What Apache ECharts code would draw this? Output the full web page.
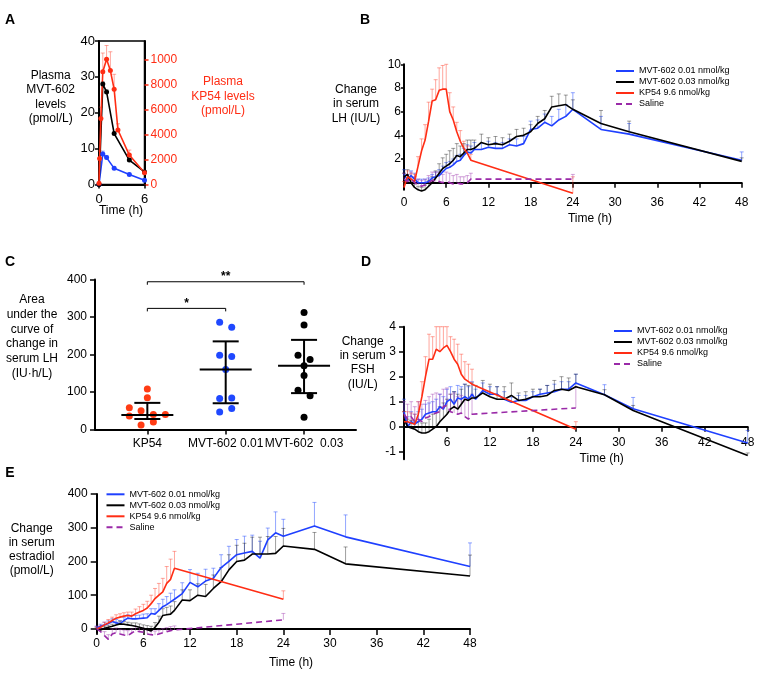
<!DOCTYPE html>
<html><head><meta charset="utf-8">
<script src="https://cdn.jsdelivr.net/npm/echarts@6/dist/echarts.min.js"></script>
<style>html,body{margin:0;padding:0;background:#fff}#c{width:764px;height:680px}</style>
</head><body><div id="c"></div>
<script>
// ---------- DATA ----------
const N1 = 'MVT-602 0.01 nmol/kg', N2 = 'MVT-602 0.03 nmol/kg', N3 = 'KP54 9.6 nmol/kg', N4 = 'Saline';
// Panel A
const tA = [0, 0.5, 1, 2, 4, 6];
const aBlue = [0, 8.5, 7.5, 4.5, 2.8, 1.2];
const aBlueErr = [0, 0.8, 0.6, 0.4, 0.4, 0.3];
const aBlack = [0, 28, 25.8, 14.2, 6.8, 3.5];
const aBlackErr = [0, 0.6, 0.6, 0.5, 0.4, 0.3];
const tAR = [0, 0.08, 0.25, 0.5, 1, 1.5, 2, 2.5, 4, 6];
const aRed = [100, 2080, 5280, 9000, 10000, 9100, 7600, 4350, 2350, 930];
const aRedErr = [0, 600, 900, 1500, 1100, 1500, 1200, 500, 400, 200];
const aRightTicks = [0, 2000, 4000, 6000, 8000, 10000];
const aRightLabels = ['0', '2000', '4000', '6000', '8000', '1000'];
// Time grids
const tB = [0,0.5,1,1.5,2,2.5,3,3.5,4,4.5,5,5.5,6,6.5,7,7.5,8,8.5,9,9.5,10,11,12,13,14,15,16,17,18,19,20,21,22,23,24,28,32,48];
const tK = [0,0.5,1,1.5,2,2.5,3,3.5,4,4.5,5,5.5,6,6.5,7,7.5,8,8.5,9,9.5,24];
const tKE = [0,0.5,1,1.5,2,2.5,3,3.5,4,4.5,5,5.5,6,6.5,7,7.5,8,8.5,9,9.5,10,24];
// Panel B (LH)
const bBlue = [0.7,0.2,0.6,0.3,0.0,0.0,0.0,0.1,0.4,0.5,0.6,0.9,1.2,1.3,1.5,1.8,1.9,2.3,2.6,2.5, 2.8,2.8,3.0,2.9,2.9,3.2,3.1,3.3,4.5,4.6,5.1,4.8,5.3,5.6,6.2,4.5,4.1,1.9];
const bBlueErr = [0.4,0.5,0.4,0.5,0.3,0.3,0.3,0.3,0.3,0.4,0.5,0.5,0.5,0.5,0.5,0.5,0.5,0.6,0.6,0.6, 0.6,0.5,0.5,0.5,0.5,0.5,0.6,0.6,0.7,0.7,0.7,0.8,0.9,1.0,1.4,1.1,0.9,0.7];
const bBlack = [0.5,0.7,0.0,-0.4,-0.6,-0.7,-0.6,-0.3,0.0,0.4,0.8,1.2,1.4,1.6,1.9,2.3,2.2,2.5,2.8,2.8, 2.9,3.4,3.2,3.3,3.2,3.5,3.9,4.0,4.3,5.0,5.4,6.4,6.5,6.6,6.2,5.0,4.3,1.8];
const bBlackErr = [0.3,0.4,0.3,0.3,0.3,0.3,0.4,0.5,0.5,0.6,0.8,0.9,1.0,1.1,1.0,1.0,0.9,0.8,0.8,0.8, 0.7,0.7,0.6,0.6,0.6,0.6,0.6,0.6,0.6,0.6,0.7,0.9,1.0,0.8,0.8,1.1,0.9,0.3];
const bRed = [-0.4,0.5,0.3,0.1,1.4,2.7,3.6,5.2,6.9,7.0,7.8,7.9,7.9,6.0,5.3,4.3,3.5,2.9,2.5,1.9,-0.9];
const bRedErr = [0.5,0.5,0.5,0.6,0.8,1.0,1.3,1.6,1.0,1.7,1.9,2.0,2.1,1.6,1.1,0.8,0.9,0.6,0.6,0.5,1.4];
const bSal = [0.3,0.1,0.3,0.0,-0.2,-0.3,-0.2,0.0,0.2,0.1,0.1,0.0,0.1,0.0,-0.1,0.0,-0.1,-0.1,0.0,0.3,0.3];
const bSalErr = [0.5,0.6,0.6,0.5,0.5,0.5,0.5,0.6,0.7,0.8,0.8,0.7,0.8,0.8,0.7,0.7,0.6,0.6,0.6,0.5,0.4];
// Panel C (AUC LH)
const cCats = ['KP54', 'MVT-602 0.01', 'MVT-602  0.03'];
const cRed = [108, 85, 58, 50, 36, 40, 40, 12, 20];
const cRedJit = [0, 0, -0.23, -0.08, -0.23, 0.077, 0.23, -0.08, 0.077];
const cBlue = [286, 273, 198, 195, 160, 83, 84, 47, 56];
const cBlueJit = [-0.077, 0.077, -0.077, 0.077, 0, -0.077, 0.077, -0.077, 0.077];
const cBlack = [312, 279, 198, 187, 170, 144, 105, 90, 33];
const cBlackJit = [0, 0, -0.077, 0.077, 0, 0, -0.077, 0.077, 0];
const cMean = [39, 160, 170];
const cSdLo = [28, 70, 97];
const cSdHi = [71, 235, 239];
const sigFrom = [1, 1], sigTo = [2, 3], sigY = [323, 394], sigText = ['*', '**'];
// Panel D (FSH)
const dBlue = [0.6,0.0,0.2,0.1,0.2,0.3,0.5,0.55,0.6,0.6,0.8,0.7,1.0,1.1,0.9,1.15,1.1,1.2,1.1,1.3, 1.1,1.45,1.3,1.3,1.1,0.98,1.05,1.05,1.2,1.3,1.35,1.4,1.5,1.5,1.75,1.28,0.72,-0.65];
const dBlueErr = [0.5,0.4,0.4,0.4,0.4,0.4,0.4,0.4,0.4,0.5,0.5,0.5,0.5,0.5,0.5,0.5,0.5,0.5,0.5,0.5, 0.4,0.3,0.3,0.3,0.3,0.2,0.2,0.2,0.2,0.2,0.3,0.3,0.3,0.3,0.35,0.4,0.45,0.5];
const dBlack = [0.3,0.0,-0.05,-0.1,-0.2,-0.25,-0.25,-0.2,-0.1,0.0,0.2,0.35,0.5,0.7,0.8,0.7,0.9,1.1,1.05,1.15, 1.15,1.35,1.2,1.1,1.1,1.25,1.05,1.1,1.2,1.2,1.25,1.45,1.5,1.45,1.6,1.28,0.65,-1.15];
const dBlackErr = [0.3,0.3,0.3,0.3,0.4,0.4,0.4,0.5,0.6,0.6,0.6,0.6,0.6,0.6,0.6,0.6,0.6,0.6,0.6,0.6, 0.5,0.5,0.5,0.5,0.5,0.5,0.3,0.3,0.3,0.3,0.4,0.4,0.5,0.5,0.5,0.2,0.2,0.1];
const dRed = [0.2,0.2,0.15,0.1,0.5,1.2,2.0,2.7,2.7,3.1,3.0,3.15,3.25,3.0,2.7,2.5,2.1,1.9,1.8,1.7,-0.1];
const dRedErr = [0.4,0.4,0.4,0.4,0.5,0.6,0.8,1.0,0.9,0.9,1.0,0.85,0.75,0.6,0.8,0.8,0.8,0.7,0.7,0.6,0.3];
const dSal = [0.5,0.3,0.4,0.2,0.3,0.2,0.35,0.4,0.5,0.55,0.6,0.8,0.85,0.6,0.55,0.5,0.55,0.4,0.3,0.5,0.75];
const dSalErr = [0.5,0.6,0.6,0.6,0.7,0.7,0.7,0.8,0.8,0.8,0.7,0.7,0.7,0.7,0.8,0.7,0.7,0.7,0.8,0.8,0.85];
// Panel E (estradiol)
const eBlue = [2,8,12,16,22,18,15,25,32,30,30,31,32,33,46,44,55,66,72,80, 88,105,138,125,142,150,182,200,220,225,230,210,264,285,275,305,273,185];
const eBlueErr = [6,6,8,8,8,10,10,10,10,10,10,10,12,12,14,16,20,22,24,26, 28,32,38,40,35,30,38,45,45,50,48,50,35,62,50,70,65,70];
const eBlack = [0,-3,2,5,8,12,15,14,12,10,8,5,2,-2,-6,5,20,40,42,44, 55,86,84,100,96,120,140,175,200,204,222,222,222,224,246,236,193,157];
const eBlackErr = [5,5,6,6,6,8,8,8,8,8,10,10,10,12,14,14,18,20,22,24, 26,30,32,34,36,40,42,45,48,50,50,50,52,50,52,50,50,62];
const eRed = [0,5,12,18,25,32,35,38,40,38,45,50,55,62,75,90,100,110,135,147,180,88];
const eRedErr = [5,6,8,10,10,10,10,10,10,12,14,16,18,20,25,30,35,40,50,60,50,25];
const eSal = [0,-8,-20,-31,-15,-11,-15,-18,-20,-12,-5,-8,-10,-15,-17,-18,-15,-11,-8,-5,-3,27];
const eSalErr = [8,10,12,14,15,14,14,15,15,12,12,12,12,12,12,12,12,12,12,12,12,19];

// ---------- STYLE ----------
const FONT = "'Liberation Sans', Arial, sans-serif";
const BLUE = '#1f40ff', BLACK = '#000', RED = '#ff2d14', PURPLE = '#9a2aa8';
const BLUE_E = 'rgba(40,80,255,0.5)', BLACK_E = 'rgba(0,0,0,0.38)', RED_E = 'rgba(255,60,40,0.45)', PURPLE_E = 'rgba(160,60,175,0.45)';

function lineS(name, xi, yi, t, v, color, dashed, sym) {
  return { type: 'line', name, xAxisIndex: xi, yAxisIndex: yi, data: t.map((x, i) => [x, v[i]]),
    symbol: sym ? 'circle' : 'none', symbolSize: 5, showSymbol: !!sym, itemStyle: { color },
    lineStyle: { color, width: 1.6, type: dashed ? [6, 4] : 'solid' }, clip: false, animation: false, z: 3 };
}
function errS(xi, yi, t, v, e, color) {
  return { type: 'custom', name: 'err', xAxisIndex: xi, yAxisIndex: yi, silent: true, animation: false, clip: false, z: 2,
    data: t.map((x, i) => [x, v[i], e[i]]),
    renderItem: (p, api) => {
      const x = api.value(0), y = api.value(1), e = api.value(2);
      if (!e) return null;
      const a = api.coord([x, y]), b = api.coord([x, y + e]);
      return { type: 'group', children: [
        { type: 'line', shape: { x1: a[0], y1: a[1], x2: b[0], y2: b[1] }, style: { stroke: color, lineWidth: 1 } },
        { type: 'line', shape: { x1: b[0] - 2, y1: b[1], x2: b[0] + 2, y2: b[1] }, style: { stroke: color, lineWidth: 1 } }
      ] };
    } };
}
const axLine = { show: true, onZero: true, lineStyle: { color: '#000', width: 2 } };
function tick(len, vals, color) { const o = { show: true, length: len, lineStyle: { color: color || '#000', width: 1.5 } }; if (vals) o.customValues = vals; return o; }
function lab(margin, size, vals, color, fmt) { const o = { show: true, margin, fontSize: size, fontFamily: FONT, color: color || '#000' }; if (vals) o.customValues = vals; if (fmt) o.formatter = fmt; return o; }
const noSplit = { show: false };

const xAxis = [
  { gridIndex: 0, type: 'value', min: 0, max: 6, interval: 6, axisLine: axLine, axisTick: tick(4), axisLabel: lab(8, 13), splitLine: noSplit },
  { gridIndex: 1, type: 'value', min: 0, max: 48, interval: 6, axisLine: axLine, axisTick: tick(5), axisLabel: lab(7, 12), splitLine: noSplit },
  { gridIndex: 2, type: 'value', min: 0.332, max: 3.663, axisLine: axLine, axisTick: tick(5, [1, 2, 3]), axisLabel: lab(8, 12, [1, 2, 3], null, v => cCats[Math.round(v) - 1]), splitLine: noSplit },
  { gridIndex: 3, type: 'value', min: 0, max: 48, axisLine: axLine, axisTick: tick(5, [0, 6, 12, 18, 24, 30, 36, 42, 48]), axisLabel: lab(-23, 12, [6, 12, 18, 24, 30, 36, 42, 48]), splitLine: noSplit },
  { gridIndex: 4, type: 'value', min: 0, max: 48, interval: 6, axisLine: axLine, axisTick: tick(6), axisLabel: lab(4.5, 12), splitLine: noSplit }
];
const yAxis = [
  { gridIndex: 0, type: 'value', min: 0, max: 40, interval: 10, axisLine: axLine, axisTick: tick(4), axisLabel: lab(4, 13), splitLine: noSplit },
  { gridIndex: 0, type: 'value', position: 'right', min: 0, max: 11460, axisLine: { show: true, lineStyle: { color: '#000', width: 2 } },
    axisTick: tick(4, aRightTicks, RED), axisLabel: lab(6, 12, aRightTicks, RED, v => aRightLabels[aRightTicks.indexOf(v)]), splitLine: noSplit },
  { gridIndex: 1, type: 'value', min: -0.6, max: 10, axisLine: axLine, axisTick: tick(3, [2, 4, 6, 8, 10]), axisLabel: lab(3, 12, [2, 4, 6, 8, 10]), splitLine: noSplit },
  { gridIndex: 2, type: 'value', min: 0, max: 400, interval: 100, axisLine: axLine, axisTick: tick(5), axisLabel: lab(8, 12), splitLine: noSplit },
  { gridIndex: 3, type: 'value', min: -1.3, max: 4, axisLine: axLine, axisTick: tick(5, [-1, 0, 1, 2, 3, 4]), axisLabel: lab(8, 12, [-1, 0, 1, 2, 3, 4]), splitLine: noSplit },
  { gridIndex: 4, type: 'value', min: -12, max: 400, axisLine: axLine, axisTick: tick(6, [0, 100, 200, 300, 400]), axisLabel: lab(9, 12, [0, 100, 200, 300, 400]), splitLine: noSplit }
];
const grid = [
  { left: 99, top: 41, width: 45.5, height: 143.5, show: true, borderColor: '#000', borderWidth: 1.5, backgroundColor: 'transparent' },
  { left: 404, top: 64.3, width: 337.7, height: 125.5 },
  { left: 95, top: 279.5, width: 261, height: 150 },
  { left: 404, top: 326.7, width: 343.7, height: 132.5 },
  { left: 96.7, top: 494, width: 373.3, height: 139 }
];

const series = [];
// A
series.push(errS(0, 0, tA, aBlue, aBlueErr, BLUE_E), errS(0, 0, tA, aBlack, aBlackErr, BLACK_E), errS(0, 1, tAR, aRed, aRedErr, RED_E));
series.push(lineS('A-0.01', 0, 0, tA, aBlue, BLUE, false, true), lineS('A-0.03', 0, 0, tA, aBlack, BLACK, false, true), lineS('A-KP54', 0, 1, tAR, aRed, RED, false, true));
// B, D, E
const panels = [
  { xi: 1, yi: 2, blue: bBlue, blueE: bBlueErr, black: bBlack, blackE: bBlackErr, tr: tK, red: bRed, redE: bRedErr, sal: bSal, salE: bSalErr },
  { xi: 3, yi: 4, blue: dBlue, blueE: dBlueErr, black: dBlack, blackE: dBlackErr, tr: tK, red: dRed, redE: dRedErr, sal: dSal, salE: dSalErr },
  { xi: 4, yi: 5, blue: eBlue, blueE: eBlueErr, black: eBlack, blackE: eBlackErr, tr: tKE, red: eRed, redE: eRedErr, sal: eSal, salE: eSalErr }
];
panels.forEach(P => {
  series.push(lineS(N1, P.xi, P.yi, tB, P.blue, BLUE), lineS(N2, P.xi, P.yi, tB, P.black, BLACK),
    lineS(N3, P.xi, P.yi, P.tr, P.red, RED), lineS(N4, P.xi, P.yi, P.tr, P.sal, PURPLE, true));
  series.push(errS(P.xi, P.yi, tB, P.blue, P.blueE, BLUE_E), errS(P.xi, P.yi, tB, P.black, P.blackE, BLACK_E),
    errS(P.xi, P.yi, P.tr, P.red, P.redE, RED_E), errS(P.xi, P.yi, P.tr, P.sal, P.salE, PURPLE_E));
});
// C scatter
function scat(vals, jit, cat, color) {
  return { type: 'scatter', name: 'C' + cat, xAxisIndex: 2, yAxisIndex: 3, symbolSize: 7, itemStyle: { color, opacity: 1 },
    data: vals.map((v, i) => [cat + jit[i], v]), animation: false, z: 3 };
}
series.push(scat(cRed, cRedJit, 1, '#ff3c14'), scat(cBlue, cBlueJit, 2, '#1f48ff'), scat(cBlack, cBlackJit, 3, '#000'));
series.push({ type: 'custom', name: 'meanSD', xAxisIndex: 2, yAxisIndex: 3, animation: false, silent: true, z: 4,
  data: cMean.map((m, i) => [i + 1, m, cSdLo[i], cSdHi[i]]),
  renderItem: (p, api) => {
    const x = api.value(0), pm = api.coord([x, api.value(1)]), pl = api.coord([x, api.value(2)]), ph = api.coord([x, api.value(3)]);
    const st = { stroke: '#000', lineWidth: 2 };
    return { type: 'group', children: [
      { type: 'line', shape: { x1: pm[0] - 26, y1: pm[1], x2: pm[0] + 26, y2: pm[1] }, style: st },
      { type: 'line', shape: { x1: pl[0], y1: pl[1], x2: ph[0], y2: ph[1] }, style: st },
      { type: 'line', shape: { x1: pl[0] - 13, y1: pl[1], x2: pl[0] + 13, y2: pl[1] }, style: st },
      { type: 'line', shape: { x1: ph[0] - 13, y1: ph[1], x2: ph[0] + 13, y2: ph[1] }, style: st }
    ] };
  } });
series.push({ type: 'custom', name: 'sig', xAxisIndex: 2, yAxisIndex: 3, animation: false, silent: true, clip: false, z: 4,
  data: sigFrom.map((f, i) => [f, sigY[i], sigTo[i], i]),
  renderItem: (p, api) => {
    const a = api.coord([api.value(0), api.value(1)]), b = api.coord([api.value(2), api.value(1)]);
    const st = { stroke: '#000', lineWidth: 1 };
    return { type: 'group', children: [
      { type: 'line', shape: { x1: a[0], y1: a[1], x2: b[0], y2: b[1] }, style: st },
      { type: 'line', shape: { x1: a[0], y1: a[1], x2: a[0], y2: a[1] + 3 }, style: st },
      { type: 'line', shape: { x1: b[0], y1: b[1], x2: b[0], y2: b[1] + 3 }, style: st },
      { type: 'text', style: { text: sigText[api.value(3)], x: (a[0] + b[0]) / 2, y: a[1] + 1, align: 'center', verticalAlign: 'bottom', font: 'bold 12px ' + FONT, fill: '#000' } }
    ] };
  } });

function legendAt(left, top) {
  return { left, top, padding: 0, orient: 'vertical', data: [N1, N2, N3, N4], itemWidth: 18, itemHeight: 9, itemGap: 2,
    selectedMode: false, itemStyle: { opacity: 0 }, textStyle: { fontSize: 9, fontFamily: FONT, color: '#000', lineHeight: 9 } };
}
function txt(x, y, text, opts) {
  opts = opts || {};
  return { type: 'text', x, y, silent: true, style: { text, font: (opts.font || '12px') + ' ' + FONT, fill: opts.fill || '#000',
    align: opts.align || 'center', verticalAlign: 'middle', lineHeight: opts.lh || 14.3 } };
}
const graphic = [
  txt(10, 20, 'A', { font: 'bold 14px' }), txt(365, 20, 'B', { font: 'bold 14px' }), txt(10, 262, 'C', { font: 'bold 14px' }),
  txt(366, 262, 'D', { font: 'bold 14px' }), txt(10, 473, 'E', { font: 'bold 14px' }),
  txt(50.7, 97.2, 'Plasma\nMVT-602\nlevels\n(pmol/L)', { lh: 14.1 }),
  txt(223, 96.5, 'Plasma\nKP54 levels\n(pmol/L)', { fill: RED, lh: 14.5 }),
  txt(121, 211, 'Time (h)'),
  txt(356, 103.7, 'Change\nin serum\nLH (IU/L)', { lh: 14.5 }),
  txt(590, 219, 'Time (h)'),
  txt(32, 336.6, 'Area\nunder the\ncurve of\nchange in\nserum LH\n(IU·h/L)', { lh: 14.66 }),
  txt(362.7, 362.9, 'Change\nin serum\nFSH\n(IU/L)', { lh: 14.4 }),
  txt(601.7, 459, 'Time (h)'),
  txt(31.7, 549.5, 'Change\nin serum\nestradiol\n(pmol/L)', { lh: 14.1 }),
  txt(291, 663, 'Time (h)')
];

const chart = echarts.init(document.getElementById('c'), null, { renderer: 'canvas' });
chart.setOption({
  backgroundColor: '#fff', animation: false, textStyle: { fontFamily: FONT },
  grid, xAxis, yAxis, series, graphic,
  legend: [legendAt(615, 66.5), legendAt(613, 326.5), legendAt(105.5, 489.8)]
});
</script></body></html>
